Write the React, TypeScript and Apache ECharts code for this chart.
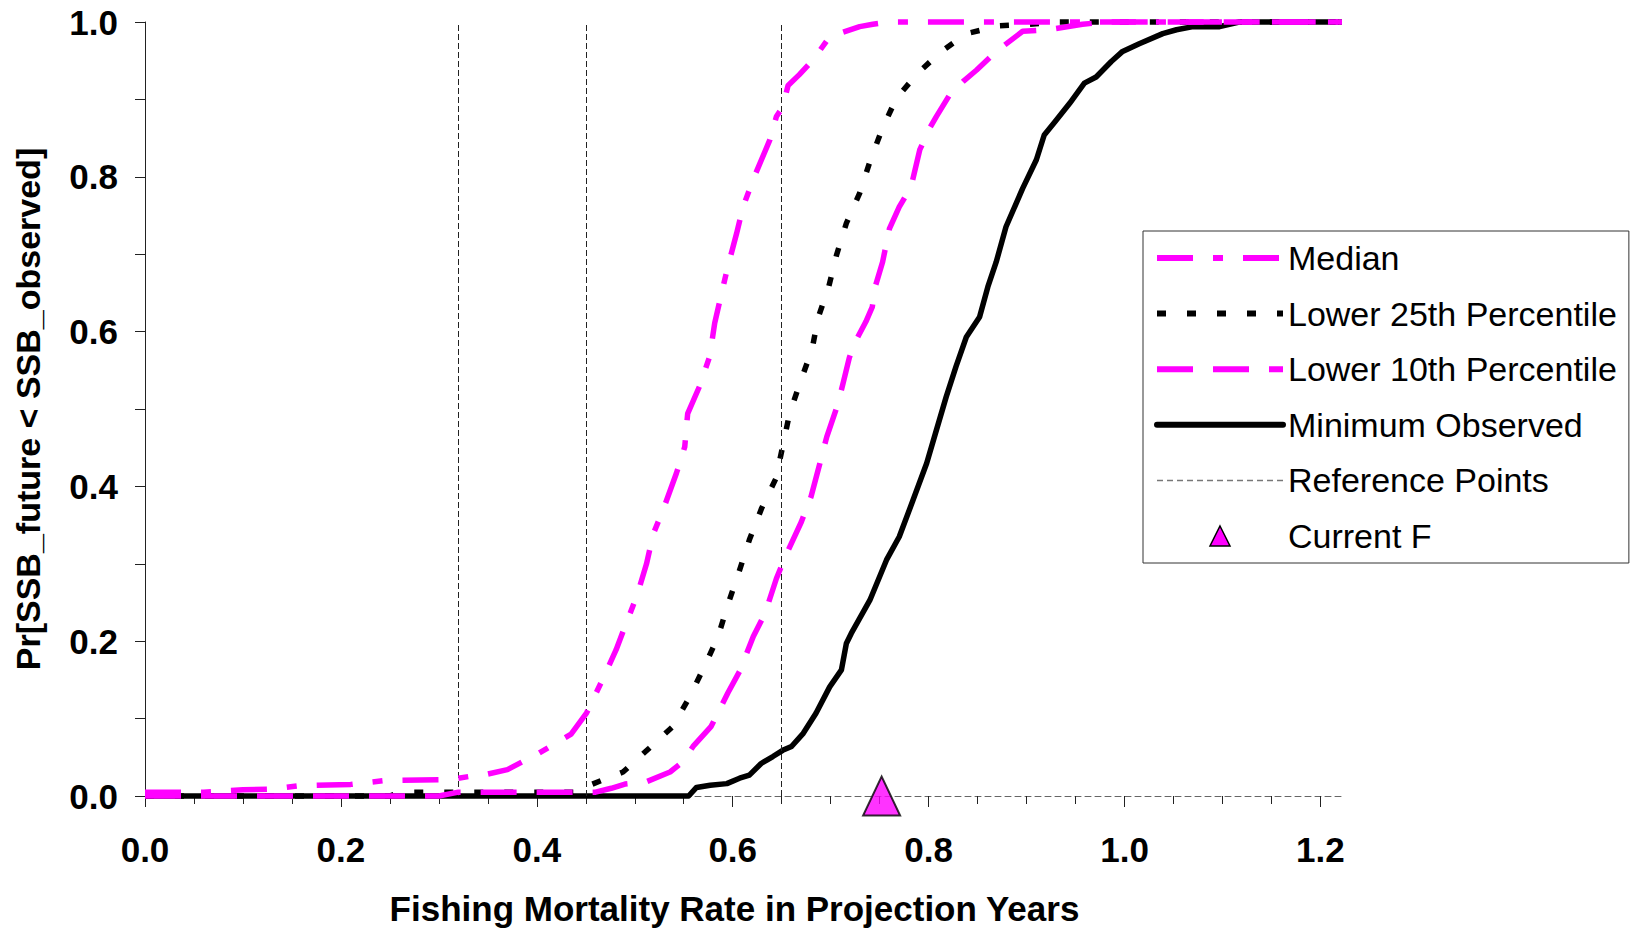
import React, { useEffect, useRef } from "react";
import * as echarts from "echarts";

// ---- data ----
const medianF = [0.0, 0.06, 0.1, 0.13, 0.155, 0.21, 0.245, 0.31, 0.335, 0.345, 0.37, 0.385, 0.395, 0.435, 0.4507, 0.4677, 0.481, 0.49, 0.502, 0.512, 0.519, 0.529, 0.5425, 0.551, 0.554, 0.566, 0.5765, 0.5816, 0.5885, 0.595, 0.604, 0.6105, 0.622, 0.638, 0.6446, 0.651, 0.6565, 0.668, 0.682, 0.699, 0.7296, 0.743, 0.76, 1.222];
const medianP = [0.005, 0.005, 0.008, 0.009, 0.013, 0.015, 0.02, 0.021, 0.026, 0.027, 0.034, 0.044, 0.05, 0.08, 0.107, 0.152, 0.189, 0.219, 0.258, 0.3, 0.339, 0.37, 0.417, 0.451, 0.494, 0.529, 0.568, 0.611, 0.649, 0.684, 0.727, 0.761, 0.8, 0.848, 0.878, 0.89, 0.918, 0.932, 0.951, 0.981, 0.994, 0.997, 1.0, 1.0];

const lower25F = [0.0, 0.25, 0.26, 0.44, 0.454, 0.488, 0.515, 0.539, 0.556, 0.571, 0.585, 0.595, 0.606, 0.617, 0.6296, 0.644, 0.6513, 0.658, 0.669, 0.681, 0.687, 0.698, 0.706, 0.716, 0.7296, 0.74, 0.752, 0.767, 0.789, 0.813, 0.8385, 0.872, 0.903, 0.93, 1.222];
const lower25P = [0.0, 0.0, 0.005, 0.005, 0.014, 0.031, 0.062, 0.09, 0.128, 0.167, 0.206, 0.247, 0.288, 0.331, 0.372, 0.41, 0.4535, 0.494, 0.535, 0.577, 0.617, 0.658, 0.699, 0.74, 0.779, 0.8195, 0.86, 0.9015, 0.934, 0.962, 0.985, 0.995, 0.997, 1.0, 1.0];

const lower10F = [0.0, 0.3, 0.32, 0.46, 0.476, 0.49, 0.512, 0.536, 0.549, 0.5595, 0.578, 0.595, 0.607, 0.621, 0.633, 0.6446, 0.655, 0.67, 0.68, 0.689, 0.696, 0.7075, 0.713, 0.719, 0.7235, 0.736, 0.7425, 0.745, 0.753, 0.76, 0.77, 0.782, 0.791, 0.801, 0.808, 0.821, 0.835, 0.849, 0.869, 0.896, 0.9216, 0.957, 0.98, 1.222];
const lower10P = [0.0, 0.0, 0.005, 0.005, 0.01, 0.0155, 0.0185, 0.031, 0.044, 0.064, 0.09, 0.133, 0.161, 0.206, 0.236, 0.281, 0.313, 0.354, 0.387, 0.43, 0.464, 0.507, 0.535, 0.566, 0.583, 0.613, 0.632, 0.656, 0.69, 0.733, 0.761, 0.787, 0.835, 0.8626, 0.878, 0.905, 0.923, 0.938, 0.962, 0.988, 0.99, 0.997, 1.0, 1.0];

const minObsF = [0.0, 0.555, 0.563, 0.577, 0.594, 0.607, 0.617, 0.629, 0.641, 0.651, 0.66, 0.672, 0.685, 0.699, 0.711, 0.716, 0.721, 0.74, 0.757, 0.77, 0.784, 0.798, 0.808, 0.818, 0.828, 0.8385, 0.852, 0.8605, 0.869, 0.879, 0.896, 0.91, 0.918, 0.929, 0.944, 0.959, 0.971, 0.9865, 0.998, 1.015, 1.039, 1.053, 1.07, 1.097, 1.117, 1.222];
const minObsP = [0.0, 0.0, 0.011, 0.014, 0.016, 0.023, 0.027, 0.042, 0.051, 0.059, 0.064, 0.081, 0.107, 0.141, 0.163, 0.197, 0.21, 0.253, 0.305, 0.335, 0.382, 0.43, 0.473, 0.516, 0.555, 0.593, 0.619, 0.658, 0.69, 0.7355, 0.785, 0.822, 0.854, 0.871, 0.895, 0.921, 0.929, 0.949, 0.962, 0.972, 0.985, 0.99, 0.994, 0.994, 1.0, 1.0];

const referenceF = [0.319, 0.451, 0.651];
const currentF = [0.752];
const currentP = [0.0];

const xTicks = [0, 0.2, 0.4, 0.6, 0.8, 1.0, 1.2];
const xMax = 1.222;

const seriesNames = [
  "Median",
  "Lower 25th Percentile",
  "Lower 10th Percentile",
  "Minimum Observed",
  "Reference Points",
  "Current F",
];

const FONT = "'Liberation Sans', Arial, Helvetica, sans-serif";
const MAGENTA = "#FF00FF";
// triangle centred in a 126x20 legend box (the move-to points keep the icon's box)
const LEGEND_TRIANGLE = "path://M0,0M126,20M63,0L73,20L53,20Z";

const zip = (xs: number[], ys: number[]) => xs.map((x, i) => [x, ys[i]]);

export default function App() {
  const ref = useRef<HTMLDivElement | null>(null);

  useEffect(() => {
    document.body.style.margin = "0";
    if (!ref.current) return;
    const chart = echarts.init(ref.current, null, { renderer: "svg" });

    const fmt = (v: number) =>
      Math.abs(v * 5 - Math.round(v * 5)) < 1e-6 ? v.toFixed(1) : "";

    const option: any = {
      animation: false,
      backgroundColor: "#ffffff",
      textStyle: { fontFamily: FONT },
      grid: {
        left: 145,
        top: 22,
        right: 1635 - 1342,
        bottom: 930 - 796,
        containLabel: false,
        outerBoundsMode: "none",
      },
      xAxis: {
        type: "value",
        min: 0,
        max: xMax,
        interval: 0.2,
        name: "Fishing Mortality Rate in Projection Years",
        nameLocation: "middle",
        nameGap: 95,
        nameMoveOverlap: false,
        nameTextStyle: {
          fontSize: 35,
          fontWeight: "bold",
          color: "#000",
          fontFamily: FONT,
          padding: [0, 18, 0, 0],
        },
        axisLine: {
          show: true,
          lineStyle: { color: "#666", width: 1, type: [6, 4] },
        },
        axisTick: {
          show: true,
          length: 11,
          customValues: xTicks,
          lineStyle: { color: "#222", width: 1 },
        },
        minorTick: {
          show: true,
          splitNumber: 4,
          length: 8,
          lineStyle: { color: "#222", width: 1 },
        },
        axisLabel: {
          customValues: xTicks,
          formatter: fmt,
          fontSize: 35,
          fontWeight: "bold",
          color: "#000",
          fontFamily: FONT,
          margin: 36,
        },
        splitLine: { show: false },
        minorSplitLine: { show: false },
      },
      yAxis: {
        type: "value",
        min: 0,
        max: 1,
        interval: 0.2,
        name: "Pr[SSB_future < SSB_observed]",
        nameLocation: "middle",
        nameRotate: 90,
        nameGap: 100,
        nameMoveOverlap: false,
        nameTextStyle: {
          fontSize: 34,
          fontWeight: "bold",
          color: "#000",
          fontFamily: FONT,
        },
        axisLine: { show: true, lineStyle: { color: "#222", width: 1 } },
        axisTick: { show: true, length: 10, lineStyle: { color: "#222", width: 1 } },
        minorTick: {
          show: true,
          splitNumber: 2,
          length: 10,
          lineStyle: { color: "#222", width: 1 },
        },
        axisLabel: {
          formatter: (v: number) => v.toFixed(1),
          fontSize: 35,
          fontWeight: "bold",
          color: "#000",
          fontFamily: FONT,
          margin: 27,
        },
        splitLine: { show: false },
      },
      legend: {
        orient: "vertical",
        left: 1143,
        top: 231,
        padding: [10, 12, 10, 11],
        itemGap: 21.6,
        itemWidth: 126,
        itemHeight: 20,
        selectedMode: false,
        borderColor: "#333",
        borderWidth: 1,
        backgroundColor: "#fff",
        textStyle: { fontSize: 34, color: "#000", fontFamily: FONT, lineHeight: 34 },
        lineStyle: { width: 6 },
        data: [
          { name: seriesNames[0], itemStyle: { opacity: 0 } },
          { name: seriesNames[1], itemStyle: { opacity: 0 } },
          { name: seriesNames[2], itemStyle: { opacity: 0 } },
          { name: seriesNames[3], itemStyle: { opacity: 0 }, lineStyle: { width: 6, cap: "round" } },
          { name: seriesNames[4], itemStyle: { opacity: 0 }, lineStyle: { width: 1.5, color: "#777", type: [6, 4] } },
          {
            name: seriesNames[5],
            icon: LEGEND_TRIANGLE,
            itemStyle: { color: MAGENTA, borderColor: "#000", borderWidth: 1.5, opacity: 1 },
          },
        ],
      },
      series: [
        {
          name: seriesNames[3],
          type: "line",
          data: zip(minObsF, minObsP),
          symbol: "none",
          clip: false,
          z: 3,
          lineStyle: { color: "#000", width: 5.5, join: "round" },
          itemStyle: { color: "#000" },
        },
        {
          name: seriesNames[4],
          type: "line",
          data: [],
          symbol: "none",
          z: 2,
          lineStyle: { color: "#777", width: 1, type: [6, 4] },
          itemStyle: { color: "#777" },
          markLine: {
            silent: true,
            symbol: ["none", "none"],
            label: { show: false },
            lineStyle: { color: "#222", width: 1, type: [6, 3] },
            data: referenceF.map((x) => ({ xAxis: x })),
          },
        },
        {
          name: seriesNames[1],
          type: "line",
          data: zip(lower25F, lower25P),
          symbol: "none",
          clip: false,
          z: 4,
          lineStyle: { color: "#000", width: 5.5, type: [9, 21] },
          itemStyle: { color: "#000" },
        },
        {
          name: seriesNames[2],
          type: "line",
          data: zip(lower10F, lower10P),
          symbol: "none",
          clip: false,
          z: 5,
          lineStyle: { color: MAGENTA, width: 5.5, type: [36, 20] },
          itemStyle: { color: MAGENTA },
        },
        {
          name: seriesNames[0],
          type: "line",
          data: zip(medianF, medianP),
          symbol: "none",
          clip: false,
          z: 6,
          lineStyle: { color: MAGENTA, width: 5.5, type: [36, 20, 10, 20] },
          itemStyle: { color: MAGENTA },
        },
        {
          name: seriesNames[5],
          type: "scatter",
          data: zip(currentF, currentP),
          symbol: "triangle",
          symbolSize: [37, 39],
          clip: false,
          z: 10,
          itemStyle: { color: MAGENTA, borderColor: "#000", borderWidth: 2 },
        },
      ],
    };

    chart.setOption(option);
    return () => chart.dispose();
  }, []);

  return (
    <div
      ref={ref}
      style={{ position: "fixed", left: 0, top: 0, width: 1635, height: 930, background: "#fff" }}
    />
  );
}
